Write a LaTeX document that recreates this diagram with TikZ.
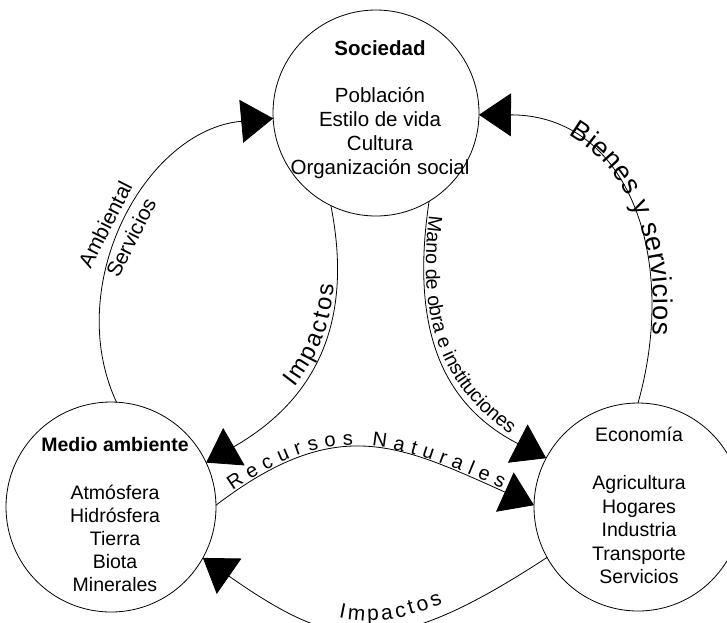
\documentclass[tikz,border=0pt]{standalone}
\usepackage{fontspec}
\setmainfont{Liberation Sans}
\usetikzlibrary{arrows.meta,decorations.text}

\tikzset{
  ring/.style={circle, draw, line width=0.8pt, minimum size=#1, inner sep=0pt, outer sep=0pt},
  flow/.style={draw, line width=0.8pt, -{Triangle[length=32pt,width=43pt]}},
  bodytext/.style={align=center, anchor=north, inner sep=0pt}
}

\begin{document}
\begin{tikzpicture}[x=1pt, y=1pt, line join=round, line cap=round]
				\useasboundingbox (0,0) rectangle (727,-622);
				
				\node[ring=206pt] (soc) at (376,-113) {};
				\node[ring=210pt] (med) at (111,-507) {};
				\node[ring=208pt] (eco) at (638,-507) {};
				
				\node[bodytext, font=\fontsize{20.5}{24}\selectfont] (soctxt) at (380,-40)
				{\textbf{Sociedad}\\[23pt]Población\\Estilo de vida\\Cultura\\Organización social};
				\node[bodytext, font=\fontsize{19.5}{23}\selectfont] (medtxt) at (115,-437)
				{\textbf{Medio ambiente}\\[25pt]Atmósfera\\Hidrósfera\\Tierra\\Biota\\Minerales};
				\node[bodytext, font=\fontsize{19.5}{23.5}\selectfont] (ecotxt) at (639,-427)
				{Economía\\[24.5pt]Agricultura\\Hogares\\Industria\\Transporte\\Servicios};
				
				\draw[flow] (med.87) .. controls (62,-285) and (145,-130) .. (soc.183);
				\draw[flow] (soc.244) .. controls (357,-337) and (303,-407) .. (med.25);
				\draw[flow] (soc.-59) .. controls (411,-323) and (438,-402.5) .. (eco.152);
				\draw[flow] (eco.90) .. controls (679,-258) and (628,-115) .. (soc.-1);
				\draw[flow] (med.1) .. controls (336.7,-413.3) and (398,-444) .. (eco.179);
				\draw[flow] (eco.209) .. controls (387.6,-661.6) and (336,-650.8) .. (med.-29);
				
				\node[rotate=63, align=center, font=\fontsize{21}{29}\selectfont] (servlbl) at (118,-231) {Ambiental\\Servicios};
				
				\path[decorate, decoration={text along path, text={|\fontsize{24}{28}\selectfont|Impactos},
				  text align={left indent=117pt, right indent=80pt, fit to path}, raise=3pt}]
				  (med.25) .. controls (303,-407) and (357,-337) .. (soc.244);
				\path[decorate, decoration={text along path, text={|\fontsize{27}{30}\selectfont|Bienes y servicios},
				  text align={left indent=92pt, right indent=70pt, fit to path}, raise=2pt}]
				  (soc.-1) .. controls (628,-115) and (679,-258) .. (eco.90);
				\path[decorate, decoration={text along path, text={|\fontsize{19.5}{22}\selectfont|Mano de obra e instituciones},
				  text align={left indent=14pt, right indent=45pt, fit to path}, raise=2pt}]
				  (soc.-59) .. controls (411,-323) and (438,-402.5) .. (eco.152);
				\path[decorate, decoration={text along path, text={|\fontsize{20}{24}\selectfont|Recursos Naturales},
				  text align={left indent=22pt, right indent=36pt, fit to path}, raise=2pt}]
				  (med.1) .. controls (336.7,-413.3) and (398,-444) .. (eco.179);
				\path[decorate, decoration={text along path, text={|\fontsize{21}{24}\selectfont|Impactos},
				  text align={left indent=152pt, right indent=115pt, fit to path}, raise=11pt}]
				  (med.-29) .. controls (336,-650.8) and (387.6,-661.6) .. (eco.209);
			\end{tikzpicture}
\end{document}
